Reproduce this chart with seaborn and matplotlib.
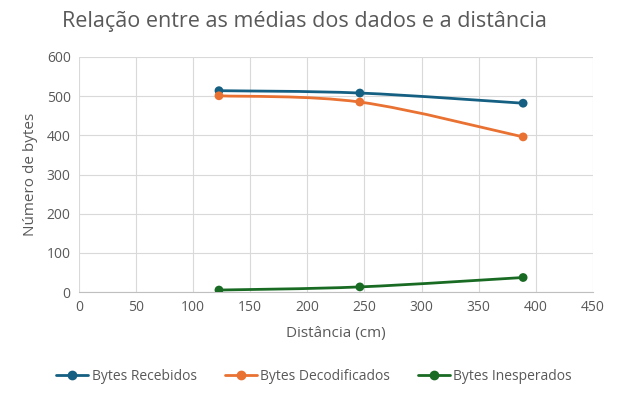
import numpy as np
import pandas as pd
import seaborn as sns
import matplotlib.pyplot as plt
from matplotlib.path import Path
from matplotlib.patches import PathPatch
from matplotlib.lines import Line2D

distancia = [122.6, 246, 389]
bytes_recebidos = [514, 508, 482]
bytes_decodificados = [501, 485, 396]
bytes_inesperados = [5, 13, 37]

series = ['Bytes Recebidos', 'Bytes Decodificados', 'Bytes Inesperados']
cores = ['#156082', '#E97132', '#196B24']

df = pd.DataFrame({
    'Distância': distancia * 3,
    'Bytes': bytes_recebidos + bytes_decodificados + bytes_inesperados,
    'Série': [s for s in series for _ in distancia],
})

sns.set_style('white')
plt.rcParams['font.family'] = ['Open Sans', 'DejaVu Sans']
cinza = '#595959'

fig = plt.figure(figsize=(6.22, 4.0), dpi=100)
ax = fig.add_axes([0.127, 0.27, 0.826, 0.5875])


def smooth_path(xs, ys):
    # Bezier smoothing like Excel's "smoothed line" (Catmull-Rom style control points)
    pts = np.column_stack([xs, ys]).astype(float)
    n = len(pts)
    verts = [pts[0]]
    codes = [Path.MOVETO]
    for i in range(n - 1):
        p0 = pts[i - 1] if i > 0 else pts[i]
        p1 = pts[i]
        p2 = pts[i + 1]
        p3 = pts[i + 2] if i + 2 < n else pts[i + 1]
        c1 = p1 + (p2 - p0) / 6
        c2 = p2 - (p3 - p1) / 6
        verts += [c1, c2, p2]
        codes += [Path.CURVE4] * 3
    return Path(verts, codes)


for nome, cor in zip(series, cores):
    sub = df[df['Série'] == nome]
    ax.add_patch(PathPatch(smooth_path(sub['Distância'], sub['Bytes']),
                           facecolor='none', edgecolor=cor, lw=2, zorder=2))

sns.scatterplot(data=df, x='Distância', y='Bytes', hue='Série', palette=cores,
                s=40, edgecolor='none', legend=False, ax=ax, zorder=3)

ax.set_xlim(0, 450)
ax.set_ylim(0, 600)
ax.set_xticks(range(0, 451, 50))
ax.set_yticks(range(0, 601, 100))
ax.grid(True, color='#d9d9d9', lw=0.8)
ax.set_axisbelow(True)
for s in ['top', 'right', 'left']:
    ax.spines[s].set_visible(False)
ax.spines['bottom'].set_color('#bfbfbf')
ax.tick_params(axis='both', length=0, labelsize=10, colors=cinza, pad=6)

ax.set_xlabel('Distância (cm)', fontsize=11, color=cinza, labelpad=8)
ax.set_ylabel('Número de bytes', fontsize=11, color=cinza, labelpad=6)
fig.text(0.49, 0.945, 'Relação entre as médias dos dados e a distância',
         ha='center', va='center', fontsize=15.5, color=cinza)

handles = [Line2D([0], [0], color=c, lw=2, marker='o', markersize=6) for c in cores]
fig.legend(handles, series, loc='center', bbox_to_anchor=(0.505, 0.06), ncol=3,
           frameon=False, fontsize=10, labelcolor=cinza, handlelength=2.3,
           columnspacing=2.0, handletextpad=0.25)

fig.savefig('out.png', dpi=100)
